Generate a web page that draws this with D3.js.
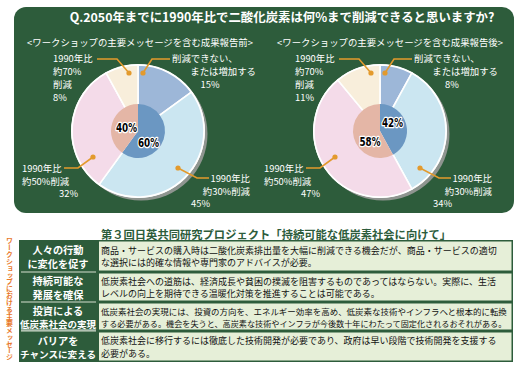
<!DOCTYPE html>
<html><head><meta charset="utf-8">
<script src="https://cdn.jsdelivr.net/npm/d3@7"></script>
<style>body{margin:0;background:#fff}svg{display:block}</style>
</head><body>
<svg id="c" width="521" height="368"></svg>
<script>
// ---------- DATA ----------
const categories = ["削減できない、または増加する", "1990年比約30%削減", "1990年比約50%削減", "1990年比約70%削減"];
const categoryLabelLines = [["削減できない、", "または増加する"], ["1990年比", "約30%削減"], ["1990年比", "約50%削減"], ["1990年比", "約70%", "削減"]];
const beforeValues = [15, 45, 32, 8];
const afterValues = [8, 34, 47, 11];
const innerGroups = ["約30%削減以下", "約50%削減以上"];
const innerBefore = [60, 40];
const innerAfter = [42, 58];
const chartTitle = "Q.2050年までに1990年比で二酸化炭素は何%まで削減できると思いますか?";
const pieTitles = ["<ワークショップの主要メッセージを含む成果報告前>", "<ワークショップの主要メッセージを含む成果報告後>"];
const tableTitle = "第３回日英共同研究プロジェクト「持続可能な低炭素社会に向けて」";
const sideLabel = "ワークショップにおける主要メッセージ";
const rowHeads = [["人々の行動", "に変化を促す"], ["持続可能な", "発展を確保"], ["投資による", "低炭素社会の実現"], ["バリアを", "チャンスに変える"]];
const rowTexts = [
  ["商品・サービスの購入時は二酸化炭素排出量を大幅に削減できる機会だが、商品・サービスの適切", "な選択には的確な情報や専門家のアドバイスが必要。"],
  ["低炭素社会への道筋は、経済成長や貧困の撲滅を阻害するものであってはならない。実際に、生活", "レベルの向上を期待できる温暖化対策を推進することは可能である。"],
  ["低炭素社会の実現には、投資の方向を、エネルギー効率を高め、低炭素な技術やインフラへと根本的に転換", "する必要がある。機会を失うと、高炭素な技術やインフラが今後数十年にわたって固定化されるおそれがある。"],
  ["低炭素社会に移行するには徹底した技術開発が必要であり、政府は早い段階で技術開発を支援する", "必要がある。"]
];

// ---------- STYLE / LAYOUT ----------
const JP = "'Noto Sans CJK JP','Noto Sans',sans-serif";
const GREEN = "#2d5c3b";
const LIGHT = "#e6efd8";
const ORANGE = "#e39a2d";
const outerColors = d3.scaleOrdinal().domain(categories).range(["#9db7d8", "#cbe6f1", "#f4dbe9", "#f8eedb"]);
const innerColors = d3.scaleOrdinal().domain(innerGroups).range(["#6b97c2", "#e4b6a6"]);

const svg = d3.select("#c");

function fit(sel, maxW) {
  const w = sel.node().getComputedTextLength();
  if (w > maxW) {
    const fs = parseFloat(sel.attr("font-size"));
    sel.attr("font-size", (fs * maxW / w).toFixed(2));
  }
  return sel;
}

// panel
svg.append("rect").attr("x", 14).attr("y", 7).attr("width", 500).attr("height", 206)
  .attr("rx", 12).attr("fill", GREEN);

svg.append("text").attr("x", 282).attr("y", 22).attr("text-anchor", "middle")
  .attr("font-family", JP).attr("font-weight", "bold").attr("font-size", 12.4)
  .attr("fill", "#fff").text(chartTitle);

const pies = [
  {cx: 138, cy: 131, values: beforeValues, inner: innerBefore, title: pieTitles[0], tx: 140,
   innerPos: [[10.5, 11], [-11.5, -4]]},
  {cx: 380, cy: 131, values: afterValues, inner: innerAfter, title: pieTitles[1], tx: 390,
   innerPos: [[12.5, -8.5], [-10, 10.5]]}
];

const R = 66, RI = 27;
const pieGen = d3.pie().sort(null).value(d => d);
const arcOuter = d3.arc().innerRadius(0).outerRadius(R);
const arcInner = d3.arc().innerRadius(0).outerRadius(RI);

const labelLayout = [
  {pts: [[5, -58], [14, -72], [32, -72]], lines: [[34, -69, "start"], [118, -56, "end"]], pct: [72, -43, "middle"]},
  {pts: [[40, 37], [59, 47], [71, 47]], lines: [[112, 51, "end"], [112, 64, "end"]], pct: [53, 76, "start"]},
  {pts: [[-45, 26], [-60, 37], [-74, 37]], lines: [[-116, 41, "start"], [-116, 54, "start"]], pct: [-79, 66, "start"]},
  {pts: [[-9, -58], [-21, -72], [-41, -72]], lines: [[-85, -69, "start"], [-85, -56, "start"], [-85, -43, "start"]], pct: [-85, -30, "start"]}
];

pies.forEach(p => {
  svg.append("text").attr("x", p.tx).attr("y", 46).attr("text-anchor", "middle")
    .attr("font-family", JP).attr("font-size", 9.4).attr("fill", "#fff").text(p.title);

  const g = svg.append("g").attr("transform", `translate(${p.cx},${p.cy})`);
  g.append("circle").attr("cx", 3).attr("cy", 3).attr("r", R + 0.5).attr("fill", "#8f9590");
  g.append("circle").attr("r", R + 1).attr("fill", "#fff");
  const arcs = pieGen(p.values);
  g.selectAll("path.o").data(arcs).join("path").attr("class", "o")
    .attr("d", arcOuter).attr("fill", (d, i) => outerColors(categories[i]))
    .attr("stroke", "#fff").attr("stroke-width", 1.6);
  const inArcs = pieGen(p.inner);
  g.selectAll("path.i").data(inArcs).join("path").attr("class", "i")
    .attr("d", arcInner).attr("fill", (d, i) => innerColors(innerGroups[i]));
  g.selectAll("text.ip").data(inArcs).join("text").attr("class", "ip")
    .attr("x", (d, i) => p.innerPos[i][0]).attr("y", (d, i) => p.innerPos[i][1])
    .attr("text-anchor", "middle").attr("dominant-baseline", "central")
    .attr("font-family", "'DejaVu Sans Condensed','DejaVu Sans',sans-serif")
    .attr("font-weight", "bold").attr("font-size", 13)
    .attr("textLength", 21).attr("lengthAdjust", "spacingAndGlyphs")
    .attr("fill", "#000").attr("stroke", "#fff").attr("stroke-width", 2.6)
    .attr("paint-order", "stroke").attr("stroke-linejoin", "round")
    .text(d => d.data + "%");

  arcs.forEach((a, i) => {
    const L = labelLayout[i];
    g.append("polyline").attr("points", L.pts.map(q => q.join(",")).join(" "))
      .attr("fill", "none").attr("stroke", ORANGE).attr("stroke-width", 1.6);
    g.append("circle").attr("cx", L.pts[0][0]).attr("cy", L.pts[0][1]).attr("r", 2.6).attr("fill", ORANGE);
    categoryLabelLines[i].forEach((t, j) => {
      const ln = L.lines[j];
      g.append("text").attr("x", ln[0]).attr("y", ln[1]).attr("text-anchor", ln[2])
        .attr("font-family", JP).attr("font-size", 9.4).attr("fill", "#fff").text(t);
    });
    g.append("text").attr("x", L.pct[0]).attr("y", L.pct[1]).attr("text-anchor", L.pct[2])
      .attr("font-family", JP).attr("font-size", 9.4).attr("fill", "#fff").text(a.data + "%");
  });
});

// ---------- TABLE ----------
svg.append("text").attr("x", 276).attr("y", 238.5).attr("text-anchor", "middle")
  .attr("font-family", JP).attr("font-weight", "bold").attr("font-size", 11.3)
  .attr("fill", GREEN).text(tableTitle);

const rowEdges = [240, 272, 302, 331, 362];
const xL = 19, xM = 97, xR = 513;
svg.append("rect").attr("x", xL).attr("y", rowEdges[0]).attr("width", xR - xL).attr("height", rowEdges[4] - rowEdges[0])
  .attr("fill", GREEN);
rowHeads.forEach((h, i) => {
  const y0 = rowEdges[i], y1 = rowEdges[i + 1], mid = (y0 + y1) / 2;
  svg.append("rect").attr("x", xM + 2).attr("y", y0 + 1.5).attr("width", xR - xM - 3.5).attr("height", y1 - y0 - 3)
    .attr("fill", LIGHT);
  if (i > 0) {
    svg.append("line").attr("x1", xL + 2).attr("x2", xM - 1).attr("y1", y0).attr("y2", y0)
      .attr("stroke", "#d6dfd0").attr("stroke-width", 1);
  }
  h.forEach((t, j) => {
    const tt = svg.append("text").attr("x", (xL + xM) / 2).attr("y", mid + (j === 0 ? -6.5 : 7.3))
      .attr("text-anchor", "middle").attr("dominant-baseline", "central")
      .attr("font-family", JP).attr("font-weight", "bold").attr("font-size", 10.2)
      .attr("fill", "#fff").text(t);
    fit(tt, 76);
    if (i === 2 && j === 1) {
      svg.append("line").attr("x1", xL + 2).attr("x2", xM - 1).attr("y1", mid + 13.5).attr("y2", mid + 13.5)
        .attr("stroke", "#fff").attr("stroke-width", 0.9);
    }
  });
  rowTexts[i].forEach((t, j) => {
    const tt = svg.append("text").attr("x", xM + 4).attr("y", mid + (j === 0 ? -6 : 6.5))
      .attr("dominant-baseline", "central")
      .attr("font-family", JP).attr("font-size", 9.0).attr("fill", "#111").text(t);
    fit(tt, 406);
  });
});

// side vertical label
svg.append("text").attr("x", 9.5).attr("y", 237)
  .attr("writing-mode", "vertical-rl")
  .attr("style", "writing-mode: vertical-rl; text-orientation: upright;")
  .attr("font-family", JP).attr("font-weight", "bold").attr("font-size", 6.9)
  .attr("fill", "#e8782a").text(sideLabel);
</script>
</body></html>
